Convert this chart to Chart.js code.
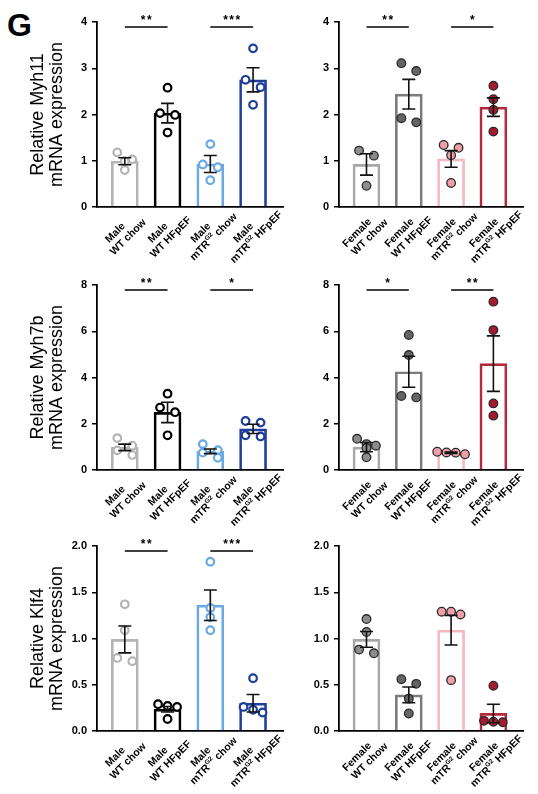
<!DOCTYPE html>
<html>
<head>
<meta charset="utf-8">
<script src="https://cdn.jsdelivr.net/npm/chart.js@4.4.0/dist/chart.umd.min.js"></script>
<style>
body { margin: 0; background: #fff; width: 538px; height: 794px; position: relative; overflow: hidden; }
canvas { position: absolute; }
#tag { position: absolute; left: 7px; top: 9px; font: bold 32px "Liberation Sans", Arial, sans-serif; line-height: 32px; }
</style>
</head>
<body>
<div id="tag">G</div>
<canvas id="c1" width="290" height="270" style="left:0;top:0"></canvas>
<canvas id="c2" width="248" height="270" style="left:290px;top:0"></canvas>
<canvas id="c3" width="290" height="270" style="left:0;top:263px"></canvas>
<canvas id="c4" width="248" height="270" style="left:290px;top:263px"></canvas>
<canvas id="c5" width="290" height="270" style="left:0;top:524px"></canvas>
<canvas id="c6" width="248" height="270" style="left:290px;top:524px"></canvas>
<script>
// groups ({..} = superscript)
var groups = ["WT chow", "WT HFpEF", "mTR{G2} chow", "mTR{G2} HFpEF"];

// y tick values
var myh11Ticks = [0, 1, 2, 3, 4];
var myh7bTicks = [0, 2, 4, 6, 8];
var klf4Ticks = [0, 0.5, 1.0, 1.5, 2.0];

// Myh11
var myh11MalePts = [[1.18, 1.03, 0.99, 0.80], [2.58, 2.03, 1.99, 1.61], [1.36, 0.92, 0.86, 0.58], [3.43, 2.75, 2.59, 2.21]];
var myh11MaleMean = [0.99, 2.03, 0.93, 2.75];
var myh11MaleSem = [0.075, 0.21, 0.185, 0.26];
var myh11MaleSig = ["**", "***"];
var myh11FemalePts = [[1.22, 1.11, 0.46], [3.11, 2.94, 1.92, 1.83], [1.34, 1.28, 1.12, 0.52], [2.62, 2.33, 2.10, 1.63]];
var myh11FemaleMean = [0.92, 2.44, 1.04, 2.16];
var myh11FemaleSem = [0.23, 0.32, 0.18, 0.2];
var myh11FemaleSig = ["**", "*"];

// Myh7b
var myh7bMalePts = [[1.38, 1.05, 0.85, 0.65], [3.3, 2.7, 2.5, 1.5], [1.12, 0.86, 0.75, 0.53], [2.12, 2.05, 1.5, 1.45]];
var myh7bMaleMean = [0.98, 2.49, 0.81, 1.78];
var myh7bMaleSem = [0.14, 0.44, 0.1, 0.2];
var myh7bMaleSig = ["**", "*"];
var myh7bFemalePts = [[1.35, 1.12, 1.05, 0.95, 0.55], [5.84, 4.97, 3.2, 3.14], [0.79, 0.76, 0.75, 0.68], [7.28, 6.05, 2.88, 2.35]];
var myh7bFemaleMean = [0.99, 4.25, 0.75, 4.6];
var myh7bFemaleSem = [0.2, 0.67, 0.03, 1.2];
var myh7bFemaleSig = ["*", "**"];

// Klf4
var klf4MalePts = [[1.37, 1.09, 0.79, 0.755], [0.29, 0.27, 0.26, 0.13], [1.83, 1.33, 1.23, 1.09], [0.57, 0.26, 0.23, 0.2]];
var klf4MaleMean = [0.99, 0.235, 1.36, 0.30];
var klf4MaleSem = [0.145, 0.03, 0.165, 0.095];
var klf4MaleSig = ["**", "***"];
var klf4FemalePts = [[1.21, 1.07, 0.88, 0.84], [0.56, 0.51, 0.35, 0.19], [1.29, 1.29, 1.26, 0.55], [0.49, 0.11, 0.094, 0.10]];
var klf4FemaleMean = [0.99, 0.39, 1.09, 0.19];
var klf4FemaleSem = [0.085, 0.085, 0.16, 0.1];
var klf4FemaleSig = [];

var FONT = '"Liberation Sans", Arial, sans-serif';
var maleColors = ["#b4b4b4", "#000000", "#6aa9e2", "#1f3d9a"];
var femaleBarColors = ["#a8a8a8", "#7c7c7c", "#f4b8c0", "#b3283b"];
var femaleFill = ["#8c8c8c", "#656565", "#f09eaa", "#a41a2e"];
var XMIN = -0.65, XMAX = 3.7;

// spread points that sit at about the same height into centred rows
function swarm(pts, yMax) {
	var pxX = 186 / (XMAX - XMIN), pxY = 185 / yMax, rowGap = 8;
	var order = pts.map(function (v, i) { return i; }).sort(function (a, b) { return pts[b] - pts[a]; });
	var out = pts.map(function () { return 0; });
	var row = [];
	function flush() {
		var n = row.length;
		var sp = n == 2 ? 15 : Math.min(9.5, 28 / (n - 1));
		row.forEach(function (idx, k) { out[idx] = n > 1 ? (k - (n - 1) / 2) * sp / pxX : 0; });
		row = [];
	}
	order.forEach(function (idx) {
		if (row.length && (pts[row[0]] - pts[idx]) * pxY >= rowGap) flush();
		row.push(idx);
	});
	flush();
	return out;
}

function drawRich(ctx, text, cx, cy, size) {
	var parts = text.split(/(\{[^}]*\})/).filter(function (s) { return s; });
	var total = 0;
	parts.forEach(function (p) {
		var sup = p[0] == "{";
		ctx.font = "bold " + (sup ? size * 0.62 : size) + "px " + FONT;
		total += ctx.measureText(sup ? p.slice(1, -1) : p).width;
	});
	var x = cx - total / 2;
	ctx.textAlign = "left";
	ctx.textBaseline = "middle";
	parts.forEach(function (p) {
		var sup = p[0] == "{";
		var t = sup ? p.slice(1, -1) : p;
		ctx.font = "bold " + (sup ? size * 0.62 : size) + "px " + FONT;
		ctx.fillText(t, x, sup ? cy - size * 0.35 : cy);
		x += ctx.measureText(t).width;
	});
}

function makePanel(id, o) {
	var ticks = o.ticks;
	var yMax = ticks[ticks.length - 1];
	var scatter = [], pbg = [], pbc = [];
	o.pts.forEach(function (g, i) {
		var jit = swarm(g, yMax);
		g.forEach(function (v, j) {
			scatter.push({ x: i + jit[j], y: v });
			pbg.push(o.female ? femaleFill[i] : "#ffffff");
			pbc.push(o.female ? "#2a2a2a" : maleColors[i]);
		});
	});
	var barColors = o.female ? femaleBarColors : maleColors;
	var sex = o.female ? "Female" : "Male";

	var panelPlugin = {
		id: "panel" + id,
		afterDatasetsDraw: function (chart) {
			var ctx = chart.ctx, xs = chart.scales.x, ys = chart.scales.y;
			ctx.save();
			ctx.strokeStyle = "#111";
			ctx.lineWidth = 1.6;
			o.mean.forEach(function (m, i) {
				var x = xs.getPixelForValue(i);
				var yt = ys.getPixelForValue(m + o.sem[i]);
				var yb = ys.getPixelForValue(m - o.sem[i]);
				ctx.beginPath();
				ctx.moveTo(x, yt); ctx.lineTo(x, yb);
				ctx.moveTo(x - 6.5, yt); ctx.lineTo(x + 6.5, yt);
				ctx.moveTo(x - 6.5, yb); ctx.lineTo(x + 6.5, yb);
				ctx.stroke();
			});
			ctx.restore();
		},
		afterDraw: function (chart) {
			var ctx = chart.ctx, xs = chart.scales.x, ys = chart.scales.y;
			ctx.save();
			// significance
			var sy = ys.getPixelForValue(yMax * 0.9725);
			o.sig.forEach(function (s, k) {
				var x0 = xs.getPixelForValue(k * 2), x1 = xs.getPixelForValue(k * 2 + 1);
				ctx.strokeStyle = "#000";
				ctx.lineWidth = 1.5;
				ctx.beginPath();
				ctx.moveTo(x0, sy); ctx.lineTo(x1, sy);
				ctx.stroke();
				ctx.fillStyle = "#000";
				ctx.font = "bold 12px " + FONT;
				ctx.letterSpacing = "1.5px";
				ctx.textAlign = "center";
				ctx.textBaseline = "alphabetic";
				ctx.fillText(s, (x0 + x1) / 2 + 0.75, sy - 3);
				ctx.letterSpacing = "0px";
			});
			// rotated category labels
			var base = chart.chartArea.bottom;
			ctx.fillStyle = "#000";
			groups.forEach(function (g, i) {
				var X = xs.getPixelForValue(i);
				ctx.save();
				ctx.translate(X - 3, base + 28);
				ctx.rotate(-Math.PI / 4);
				drawRich(ctx, sex, -3, -6, 10.5);
				drawRich(ctx, g, 3, 6, 10.5);
				ctx.restore();
			});
			ctx.restore();
		}
	};

	new Chart(document.getElementById(id), {
		type: "bar",
		data: {
			datasets: [
				{
					type: "scatter",
					data: scatter,
					pointRadius: o.female ? 4.3 : 3.8,
					pointBorderWidth: o.female ? 1.3 : 2.2,
					pointBackgroundColor: pbg,
					pointBorderColor: pbc,
					order: 1,
				},
				{
					type: "bar",
					data: o.mean.map(function (m, i) { return { x: i, y: m }; }),
					backgroundColor: "rgba(255,255,255,0)",
					borderColor: barColors,
					borderWidth: 2,
					barThickness: 27,
					borderSkipped: "start",
					order: 2,
				},
			],
		},
		options: {
			responsive: false,
			animation: false,
			devicePixelRatio: 1,
			layout: { padding: { left: 0, top: 22, right: o.padRight, bottom: 0 } },
			plugins: { legend: { display: false }, tooltip: { enabled: false } },
			scales: {
				x: {
					type: "linear",
					min: XMIN,
					max: XMAX,
					offset: false,
					grid: { display: false },
					ticks: { display: false },
					border: { color: "#000", width: 1.8 },
					afterFit: function (s) { s.height = 63; },
				},
				y: {
					min: ticks[0],
					max: yMax,
					afterBuildTicks: function (s) { s.ticks = ticks.map(function (v) { return { value: v }; }); },
					ticks: {
						color: "#000",
						padding: 5,
						font: { family: FONT, size: 11, weight: "bold" },
						callback: function (v) { return o.decimals ? v.toFixed(1) : String(v); },
					},
					grid: { drawOnChartArea: false, color: "#000", lineWidth: 1.5, tickLength: 5 },
					border: { color: "#000", width: 1.8 },
					title: {
						display: !!o.title,
						text: o.title,
						color: "#000",
						font: { family: FONT, size: 18, lineHeight: 1.05 },
						padding: { top: 28.5, bottom: 0 },
					},
					afterFit: function (s) { s.width = o.yWidth; },
				},
			},
		},
		plugins: [panelPlugin],
	});
}

makePanel("c1", { pts: myh11MalePts, mean: myh11MaleMean, sem: myh11MaleSem, sig: myh11MaleSig, ticks: myh11Ticks, title: ["Relative Myh11", "mRNA expression"], yWidth: 97, padRight: 7 });
makePanel("c2", { pts: myh11FemalePts, mean: myh11FemaleMean, sem: myh11FemaleSem, sig: myh11FemaleSig, ticks: myh11Ticks, female: true, yWidth: 49, padRight: 15 });
makePanel("c3", { pts: myh7bMalePts, mean: myh7bMaleMean, sem: myh7bMaleSem, sig: myh7bMaleSig, ticks: myh7bTicks, title: ["Relative Myh7b", "mRNA expression"], yWidth: 97, padRight: 7 });
makePanel("c4", { pts: myh7bFemalePts, mean: myh7bFemaleMean, sem: myh7bFemaleSem, sig: myh7bFemaleSig, ticks: myh7bTicks, female: true, yWidth: 49, padRight: 15 });
makePanel("c5", { pts: klf4MalePts, mean: klf4MaleMean, sem: klf4MaleSem, sig: klf4MaleSig, ticks: klf4Ticks, decimals: true, title: ["Relative Klf4", "mRNA expression"], yWidth: 97, padRight: 7 });
makePanel("c6", { pts: klf4FemalePts, mean: klf4FemaleMean, sem: klf4FemaleSem, sig: klf4FemaleSig, ticks: klf4Ticks, decimals: true, female: true, yWidth: 49, padRight: 15 });
</script>
</body>
</html>
